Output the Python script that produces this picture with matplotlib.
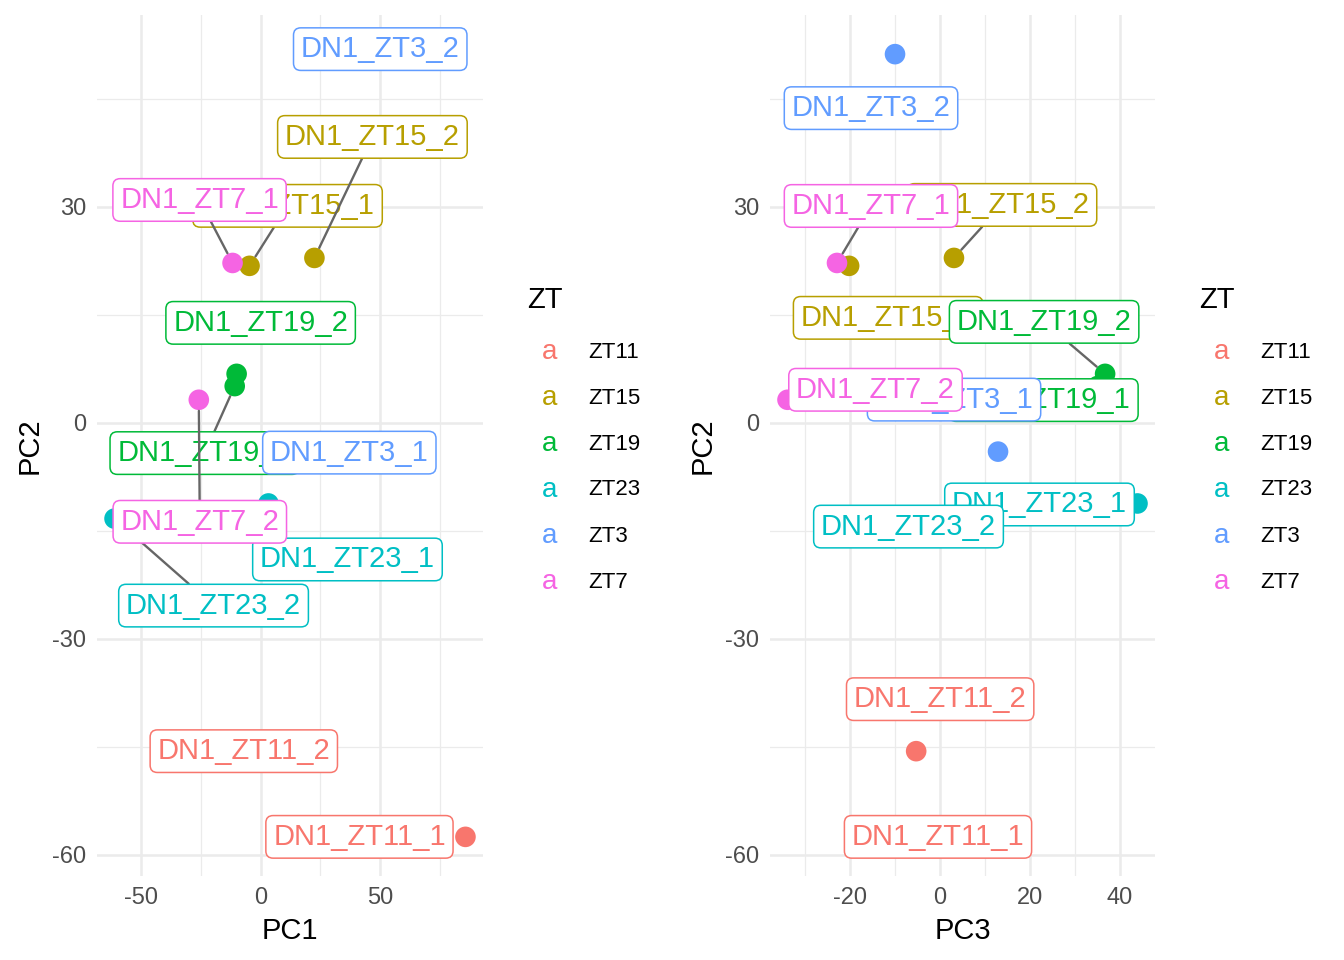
import matplotlib
matplotlib.use("Agg")
import matplotlib.pyplot as plt
from matplotlib.ticker import MultipleLocator

plt.rcParams["font.family"] = ["Liberation Sans", "DejaVu Sans"]
plt.rcParams["axes.unicode_minus"] = False

# 数据
samples = ["DN1_ZT11_1", "DN1_ZT11_2", "DN1_ZT15_1", "DN1_ZT15_2",
           "DN1_ZT19_1", "DN1_ZT19_2", "DN1_ZT23_1", "DN1_ZT23_2",
           "DN1_ZT3_1", "DN1_ZT3_2", "DN1_ZT7_1", "DN1_ZT7_2"]
zt = ["ZT11", "ZT11", "ZT15", "ZT15", "ZT19", "ZT19",
      "ZT23", "ZT23", "ZT3", "ZT3", "ZT7", "ZT7"]
pc1 = [85.6, -7.0, -4.6, 22.5, -10.8, -10.0, 3.3, -61.0, 35.0, 50.0, -11.7, -25.8]
pc2 = [-57.5, -45.6, 21.8, 22.9, 5.1, 6.8, -11.2, -13.3, -4.0, 51.2, 22.2, 3.2]
pc3 = [0.0, -5.3, -20.2, 3.1, 35.0, 36.7, 43.9, -7.0, 12.9, -10.0, -22.9, -33.9]

zt_levels = ["ZT11", "ZT15", "ZT19", "ZT23", "ZT3", "ZT7"]
zt_colors = ["#F8766D", "#B79F00", "#00BA38", "#00BFC4", "#619CFF", "#F564E3"]
col = dict(zip(zt_levels, zt_colors))

# 标签偏移 (像素, 右/下为正) 以及是否画连线
off_left = [(-106, 0), (0, 0), (38, -60), (58, -121), (-30, 67), (24, -51),
            (79, 56), (99, 87), (5, 1), (0, -5), (-33, -63), (1, 122)]
seg_left = [0, 0, 1, 1, 1, 0, 0, 1, 0, 0, 1, 1]
off_right = [(-2, 0), (24, -52), (39, 52), (48, -53), (-54, 14), (-61, -52),
             (-98, 1), (0, 8), (-44, -52), (-24, 54), (34, -57), (88, -10)]
seg_right = [0, 0, 0, 1, 0, 1, 0, 0, 0, 0, 1, 0]

fig = plt.figure(figsize=(13.44, 9.6), dpi=100)
ax1 = fig.add_axes([97 / 1344, 84 / 960, 386 / 1344, 861 / 960])
ax2 = fig.add_axes([770 / 1344, 84 / 960, 385 / 1344, 861 / 960])


def draw_panel(ax, xs, ys, offs, segs, xlabel, xmajor):
    colors = [col[z] for z in zt]
    ax.scatter(xs, ys, s=220, c=colors, linewidths=0, zorder=2)
    for i, name in enumerate(samples):
        dx, dy = offs[i]
        c = col[zt[i]]
        arrow = None
        if segs[i]:
            arrow = dict(arrowstyle="-", color="#666666", lw=1.7,
                         shrinkA=0, shrinkB=8)
        ax.annotate(name, xy=(xs[i], ys[i]), xytext=(dx * 0.72, -dy * 0.72),
                    textcoords="offset points", ha="center", va="center",
                    color=c, fontsize=21,
                    bbox=dict(boxstyle="round,pad=0.25,rounding_size=0.25",
                              fc="white", ec=c, lw=1.1),
                    arrowprops=arrow, zorder=3 + i)
    # ggplot 风格的 5% 扩展
    rx = max(xs) - min(xs)
    ry = max(ys) - min(ys)
    ax.set_xlim(min(xs) - 0.05 * rx, max(xs) + 0.05 * rx)
    ax.set_ylim(min(ys) - 0.05 * ry, max(ys) + 0.05 * ry)
    ax.xaxis.set_major_locator(MultipleLocator(xmajor))
    ax.xaxis.set_minor_locator(MultipleLocator(xmajor / 2))
    ax.yaxis.set_major_locator(MultipleLocator(30))
    ax.yaxis.set_minor_locator(MultipleLocator(15))
    ax.grid(True, which="major", color="#EBEBEB", lw=1.8, zorder=0)
    ax.grid(True, which="minor", color="#EBEBEB", lw=0.9, zorder=0)
    ax.set_axisbelow(True)
    for s in ax.spines.values():
        s.set_visible(False)
    ax.tick_params(which="both", length=0, labelsize=17, colors="#4D4D4D", pad=8)
    ax.set_xlabel(xlabel, fontsize=21, labelpad=6)
    ax.set_ylabel("PC2", fontsize=21, labelpad=6)


draw_panel(ax1, pc1, pc2, off_left, seg_left, "PC1", 50)
draw_panel(ax2, pc3, pc2, off_right, seg_right, "PC3", 20)

# 图例
for x0 in (527, 1199):
    fig.text(x0 / 1344, 1 - 300 / 960, "ZT", fontsize=21, va="center", ha="left")
    for k, (lv, c) in enumerate(zip(zt_levels, zt_colors)):
        yy = 1 - (352 + 46 * k) / 960
        fig.text((x0 + 23) / 1344, yy, "a", color=c, fontsize=20, ha="center", va="center")
        fig.text((x0 + 61) / 1344, yy, lv, fontsize=16, ha="left", va="center")

plt.savefig("out.png", dpi=100)
